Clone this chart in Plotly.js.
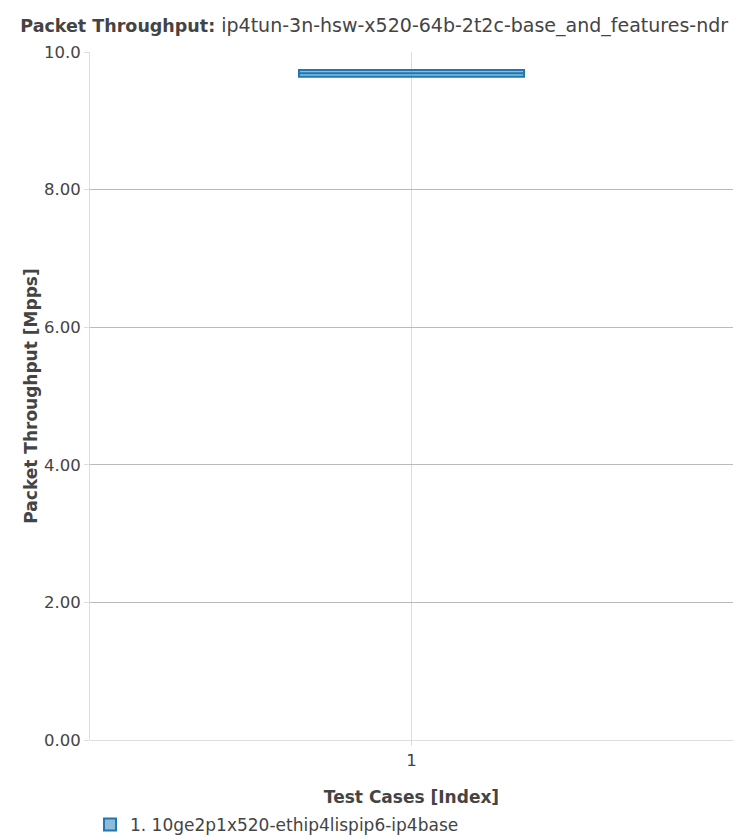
<!DOCTYPE html>
<html>
<head>
<meta charset="utf-8">
<script src="https://cdn.plot.ly/plotly-3.0.1.min.js"></script>
<style>html,body{margin:0;padding:0;background:#fff;}#chart{width:752px;height:840px;}</style>
</head>
<body>
<div id="chart"></div>
<script>
const testIndex = [1, 1, 1, 1, 1];
const throughput = [9.64, 9.64, 9.69, 9.74, 9.74];
const seriesName = "1. 10ge2p1x520-ethip4lispip6-ip4base";
const titleBold = "Packet Throughput:";
const titleRest = "ip4tun-3n-hsw-x520-64b-2t2c-base_and_features-ndr";
const yTickVals = [0, 2, 4, 6, 8, 10];

const traces = [{
  type: "box",
  x: testIndex,
  y: throughput,
  name: seriesName,
  boxpoints: false,
  marker: {color: "#1f77b4"},
  line: {width: 2}
}];

const layout = {
  width: 752,
  height: 840,
  font: {family: "DejaVu Sans, sans-serif", size: 16.5, color: "#444"},
  paper_bgcolor: "#fff",
  plot_bgcolor: "#fff",
  margin: {l: 90, r: 19, t: 52, b: 100, autoexpand: false},
  title: {
    text: "<span style=\"font-size:17.5px\"><b>" + titleBold + "</b></span> " + titleRest,
    font: {size: 19, color: "#444"},
    x: 0.027, xanchor: "left", y: 0.97, yanchor: "middle"
  },
  showlegend: true,
  legend: {orientation: "h", x: 0.0, xanchor: "left", yref: "container", y: 0.018, yanchor: "middle", font: {size: 17}},
  xaxis: {
    title: {text: "<b>Test Cases [Index]</b>", font: {size: 17}, standoff: 24},
    type: "linear",
    range: [0.3, 1.7],
    tickvals: [1],
    ticktext: ["1"],
    showgrid: true,
    gridcolor: "#ddd",
    zeroline: false,
    showline: false,
    ticks: "outside",
    ticklen: 5,
    tickcolor: "#ddd",
    ticklabelstandoff: 0,
    fixedrange: true
  },
  yaxis: {
    title: {text: "<b>Packet Throughput [Mpps]</b>", font: {size: 17}, standoff: 2},
    range: [0, 10],
    tickvals: yTickVals,
    tickformat: ".3s",
    showgrid: true,
    gridcolor: "#bbb",
    zeroline: true,
    zerolinecolor: "#ddd",
    showline: true,
    linecolor: "#ddd",
    ticks: "outside",
    tickcolor: "#ddd",
    ticklen: 5
  }
};

Plotly.newPlot("chart", traces, layout, {displayModeBar: false, staticPlot: true});
</script>
</body>
</html>
